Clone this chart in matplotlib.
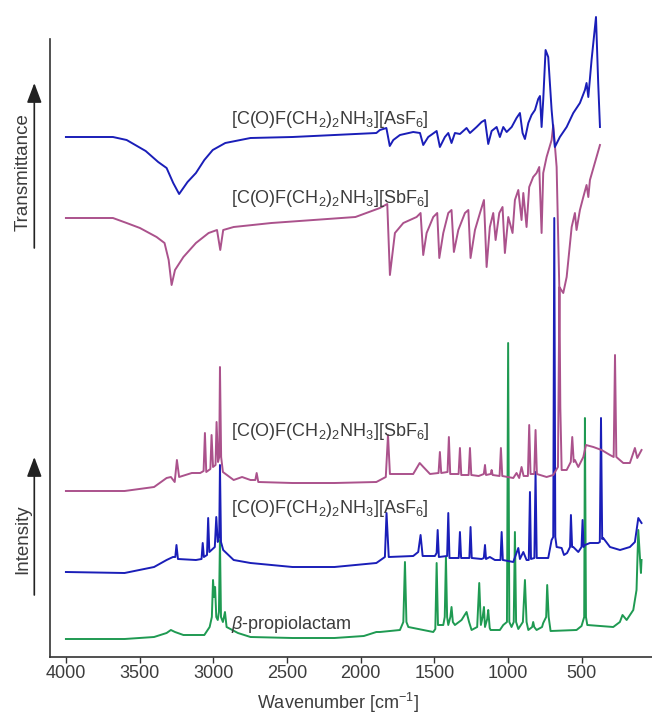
import numpy as np
import matplotlib
matplotlib.use("Agg")
import matplotlib.pyplot as plt

plt.rcParams['font.family'] = ['Liberation Sans', 'DejaVu Sans']
plt.rcParams['mathtext.fontset'] = 'custom'
plt.rcParams['mathtext.rm'] = 'Liberation Sans'
plt.rcParams['mathtext.it'] = 'Liberation Sans:italic'
plt.rcParams['mathtext.default'] = 'regular'

# Spectra: (wavenumber [cm-1], signal in arbitrary units incl. stacking offset)
ir_asf6 = [(4000, 520), (3772, 520), (3681, 520), (3588, 517), (3459, 506), (3374, 495), (3317, 489),
           (3272, 474), (3232, 463), (3175, 475), (3118, 484), (3061, 497), (3004, 507), (2919, 514),
           (2748, 519), (2463, 520), (2178, 522), (1894, 524), (1870, 527), (1826, 529), (1803, 511),
           (1779, 517), (1734, 522), (1644, 525), (1598, 524), (1576, 512), (1542, 520), (1485, 526),
           (1463, 510), (1429, 520), (1406, 524), (1384, 514), (1361, 524), (1327, 523), (1282, 529),
           (1259, 524), (1214, 530), (1180, 535), (1157, 537), (1135, 513), (1112, 526), (1078, 530),
           (1056, 520), (1033, 530), (1010, 525), (976, 530), (943, 539), (920, 544), (902, 524),
           (886, 518), (863, 534), (841, 542), (818, 547), (796, 558), (784, 561), (773, 530),
           (762, 557), (746, 607), (728, 600), (705, 547), (683, 510), (649, 520), (603, 530),
           (558, 544), (513, 554), (479, 567), (468, 574), (456, 560), (434, 597), (404, 640),
           (389, 574), (377, 530)]

ir_sbf6 = [(4000, 439), (3744, 439), (3681, 439), (3588, 434), (3498, 429), (3385, 420), (3331, 414),
           (3303, 397), (3283, 372), (3260, 387), (3203, 400), (3118, 414), (3032, 424), (2975, 427),
           (2953, 407), (2933, 427), (2862, 430), (2606, 434), (2321, 437), (2036, 440), (1870, 449),
           (1820, 453), (1802, 382), (1768, 424), (1711, 434), (1621, 440), (1594, 444), (1576, 402),
           (1553, 424), (1508, 440), (1481, 444), (1467, 399), (1440, 424), (1406, 444), (1384, 447),
           (1368, 405), (1338, 427), (1293, 444), (1270, 447), (1255, 399), (1225, 427), (1191, 444),
           (1164, 457), (1146, 390), (1124, 430), (1101, 444), (1085, 417), (1060, 444), (1038, 450),
           (1022, 404), (999, 440), (970, 424), (954, 457), (931, 467), (909, 437), (897, 464),
           (875, 430), (857, 470), (830, 480), (807, 484), (789, 490), (773, 424), (762, 484),
           (739, 500), (705, 517), (694, 532), (671, 490), (653, 370), (626, 364), (603, 380),
           (569, 430), (547, 444), (536, 427), (513, 447), (490, 460), (468, 472), (456, 460),
           (445, 477), (377, 512)]

raman_sbf6 = [(4000, 166), (3602, 166), (3402, 170), (3317, 179), (3288, 180), (3262, 175), (3247, 197),
              (3232, 180), (3146, 184), (3089, 184), (3066, 186), (3057, 224), (3048, 185), (3020, 188),
              (3012, 222), (3002, 190), (2985, 192), (2978, 235), (2968, 195), (2960, 200), (2955, 290),
              (2947, 200), (2935, 185), (2862, 177), (2805, 180), (2748, 177), (2715, 177), (2706, 184),
              (2695, 175), (2463, 174), (2178, 174), (1894, 175), (1830, 180), (1815, 222), (1802, 183),
              (1644, 183), (1600, 194), (1575, 190), (1530, 183), (1472, 184), (1463, 205), (1454, 184),
              (1411, 185), (1402, 220), (1393, 183), (1336, 183), (1327, 209), (1318, 182), (1268, 182),
              (1259, 209), (1250, 182), (1200, 181), (1165, 183), (1157, 192), (1150, 182), (1118, 183),
              (1112, 187), (1105, 182), (1058, 181), (1049, 209), (1040, 181), (965, 179), (943, 184),
              (925, 179), (909, 190), (895, 181), (866, 181), (857, 232), (848, 183), (823, 183),
              (814, 227), (805, 183), (739, 180), (694, 182), (662, 190), (652, 370), (646, 250),
              (637, 187), (603, 187), (575, 195), (565, 220), (555, 195), (547, 197), (524, 190),
              (490, 200), (472, 212), (422, 210), (366, 207), (309, 202), (284, 200), (275, 302),
              (266, 200), (219, 194), (174, 194), (151, 204), (140, 209), (124, 199), (95, 207)]

raman_asf6 = [(4000, 85), (3602, 84), (3402, 90), (3317, 97), (3274, 100), (3258, 100), (3250, 112),
              (3240, 98), (3118, 97), (3080, 98), (3072, 114), (3064, 100), (3043, 102), (3035, 139),
              (3027, 105), (2990, 110), (2980, 140), (2970, 115), (2960, 120), (2955, 192), (2948, 115),
              (2933, 107), (2862, 97), (2748, 94), (2463, 90), (2178, 90), (1894, 94), (1836, 100),
              (1825, 144), (1810, 100), (1644, 101), (1610, 105), (1594, 122), (1580, 101), (1497, 101),
              (1485, 104), (1478, 127), (1470, 100), (1414, 101), (1406, 144), (1398, 99), (1335, 99),
              (1327, 125), (1319, 99), (1263, 99), (1255, 130), (1247, 99), (1180, 98), (1165, 99),
              (1157, 112), (1150, 98), (1124, 100), (1090, 97), (1052, 97), (1044, 125), (1036, 97),
              (965, 95), (931, 109), (920, 98), (897, 105), (875, 97), (860, 97), (852, 165), (845, 98),
              (822, 99), (814, 185), (806, 99), (728, 99), (705, 117), (694, 120), (687, 439), (680, 120),
              (671, 110), (637, 109), (621, 102), (600, 104), (580, 110), (574, 142), (566, 110),
              (558, 110), (524, 105), (502, 110), (495, 137), (488, 110), (479, 112), (445, 114),
              (389, 114), (378, 115), (370, 239), (362, 118), (355, 119), (309, 110), (241, 107),
              (174, 110), (140, 115), (117, 139), (95, 134)]

raman_lactam = [(4000, 18), (3602, 18), (3402, 20), (3317, 24), (3288, 27), (3260, 25), (3203, 22),
                (3061, 22), (3025, 30), (3010, 40), (3002, 77), (2995, 60), (2988, 70), (2980, 40),
                (2970, 37), (2962, 45), (2955, 117), (2948, 40), (2935, 35), (2921, 45), (2910, 30),
                (2833, 24), (2748, 20), (2463, 19), (2178, 19), (1979, 21), (1894, 25), (1870, 25),
                (1734, 27), (1711, 35), (1700, 95), (1690, 35), (1677, 30), (1508, 25), (1494, 28),
                (1485, 94), (1476, 32), (1440, 32), (1430, 40), (1422, 100), (1414, 40), (1406, 32),
                (1392, 40), (1384, 50), (1375, 35), (1361, 32), (1316, 37), (1295, 42), (1282, 45),
                (1265, 35), (1248, 27), (1210, 30), (1196, 74), (1185, 32), (1173, 40), (1164, 50),
                (1157, 30), (1142, 38), (1135, 47), (1125, 29), (1119, 27), (1056, 27), (1033, 32),
                (1008, 35), (1000, 314), (992, 35), (977, 30), (962, 35), (954, 125), (946, 35),
                (931, 28), (900, 35), (886, 77), (875, 35), (863, 27), (837, 30), (830, 35), (823, 30),
                (807, 27), (770, 30), (762, 34), (742, 40), (735, 72), (725, 40), (712, 26), (536, 27),
                (502, 31), (484, 40), (479, 239), (472, 40), (463, 32), (287, 30), (242, 35), (224, 42),
                (196, 37), (151, 47), (129, 67), (117, 127), (106, 100), (99, 84), (95, 97)]

labels = ['[C(O)F(CH$_2$)$_2$NH$_3$][AsF$_6$]', '[C(O)F(CH$_2$)$_2$NH$_3$][SbF$_6$]',
          '[C(O)F(CH$_2$)$_2$NH$_3$][SbF$_6$]', '[C(O)F(CH$_2$)$_2$NH$_3$][AsF$_6$]',
          r'$\mathit{\beta}$-propiolactam']
label_y = [533, 454, 221, 144, 28]
label_x = 2880
xticks = [4000, 3500, 3000, 2500, 2000, 1500, 1000, 500]

BLUE = '#1a1eb8'
PINK = '#ab528c'
GREEN = '#1f9a52'
TXT = '#3c3c3c'

fig = plt.figure(figsize=(6.52, 7.16), dpi=100)
ax = fig.add_axes([50 / 652, 59 / 716, 602 / 652, 657 / 716])

for data, col in [(raman_lactam, GREEN), (raman_asf6, BLUE), (raman_sbf6, PINK),
                  (ir_sbf6, PINK), (ir_asf6, BLUE)]:
    arr = np.array(data)
    ax.plot(arr[:, 0], arr[:, 1], color=col, lw=1.4)

for txt, y in zip(labels, label_y):
    ax.text(label_x, y, txt, fontsize=13, color=TXT, ha='left', va='baseline')

ax.set_xlim(4108, 24)
ax.set_ylim(0, 657)
ax.set_xticks(xticks)
ax.set_yticks([])
ax.tick_params(axis='x', direction='out', length=4, width=1, pad=2,
               labelsize=13, colors='#333333', labelcolor=TXT)
for s in ['top', 'right']:
    ax.spines[s].set_visible(False)
ax.spines['left'].set_bounds(0, 618)
for s in ['left', 'bottom']:
    ax.spines[s].set_color('#333333')
    ax.spines[s].set_linewidth(1.2)

fig.text(338 / 652, 7 / 716, 'Wavenumber [cm$^{-1}$]', fontsize=13, color=TXT,
         ha='center', va='baseline')

# Arrows + axis names on the left
for name, y0, y1, ymid in [('Transmittance', 468, 633, 543.5), ('Intensity', 121, 259, 176.5)]:
    ax.annotate('', xy=(34.3, y1), xytext=(34.3, y0), xycoords='figure pixels',
                textcoords='figure pixels',
                arrowprops=dict(arrowstyle='-|>,head_length=1.2,head_width=0.45',
                                lw=1.2, color='#222222', shrinkA=0, shrinkB=0))
    fig.text(23 / 652, ymid / 716, name, fontsize=13.5, color=TXT, rotation=90,
             ha='center', va='center')

fig.savefig('out.png', dpi=100)
